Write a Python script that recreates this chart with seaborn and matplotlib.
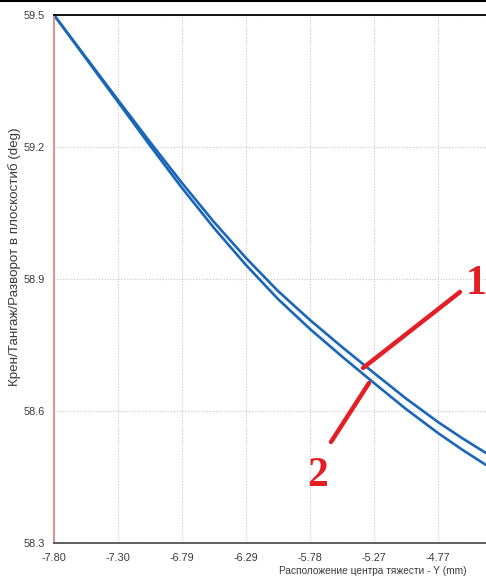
import matplotlib
matplotlib.use("Agg")
import matplotlib.pyplot as plt
from matplotlib.lines import Line2D
from matplotlib.ticker import FixedLocator
import seaborn as sns
import pandas as pd

# ---- data ----
x_vals = [-7.800, -7.5475, -7.295, -7.0425, -6.790, -6.5375, -6.285, -6.0325,
          -5.780, -5.5275, -5.275, -5.0225, -4.770, -4.581, -4.391]
curve1 = [59.500, 59.4034, 59.3068, 59.2114, 59.1182, 59.0295, 58.9477, 58.8727,
          58.8068, 58.7455, 58.6864, 58.6284, 58.5750, 58.5386, 58.5045]
curve2 = [59.500, 59.4011, 59.3023, 59.2034, 59.1068, 59.0159, 58.9318, 58.8545,
          58.7864, 58.7239, 58.6636, 58.6045, 58.5500, 58.5125, 58.4773]
x_tick_pos = [-7.80, -7.295, -6.79, -6.285, -5.78, -5.275, -4.77]
x_tick_labels = ["-7.80", "-7.30", "-6.79", "-6.29", "-5.78", "-5.27", "-4.77"]
y_ticks = [58.3, 58.6, 58.9, 59.2, 59.5]
y_tick_labels = ["58.3", "58.6", "58.9", "59.2", "59.5"]
x_label = "Расположение центра тяжести - Y (mm)"
y_label = "Крен/Тангаж/Разворот в плоскостиб (deg)"

df = pd.DataFrame({
    "x": x_vals + x_vals,
    "y": curve1 + curve2,
    "series": ["1"] * len(x_vals) + ["2"] * len(x_vals),
})

sns.set_style("white")
plt.rcParams["font.family"] = ["Liberation Sans", "DejaVu Sans"]

W, H = 486, 580
fig = plt.figure(figsize=(W / 100, H / 100), dpi=100)
ax = fig.add_axes([54 / W, (H - 543) / H, 1 - 54 / W, (543 - 15) / H])

blue = "#1a66b8"
sns.lineplot(data=df, x="x", y="y", hue="series", palette=[blue, blue],
             linewidth=1.9, ax=ax, legend=False, sort=False, estimator=None)

ax.set_xlim(-7.80, -4.391)
ax.set_ylim(58.3, 59.5)
ax.xaxis.set_major_locator(FixedLocator(x_tick_pos))
ax.set_xticklabels(x_tick_labels)
ax.xaxis.set_minor_locator(FixedLocator([p + 0.2525 for p in x_tick_pos]))
ax.yaxis.set_major_locator(FixedLocator(y_ticks))
ax.set_yticklabels(y_tick_labels)
ax.yaxis.set_minor_locator(FixedLocator([v + 0.15 for v in y_ticks[:-1]]))

ax.grid(True, which="major", color="#c8c8c8", linestyle=(0, (1, 1.5)), linewidth=0.8)
ax.set_axisbelow(True)

ax.tick_params(axis="both", which="major", direction="inout", length=7, width=1,
               color="#333333", labelsize=7.8, labelcolor="#3a3a3a", pad=3)
ax.tick_params(axis="both", which="minor", direction="inout", length=4, width=1,
               color="#333333")
ax.tick_params(axis="x", which="major", pad=4)

ax.spines["left"].set_color("#d98a8a")
ax.spines["left"].set_linewidth(1.3)
ax.spines["bottom"].set_color("#444444")
ax.spines["bottom"].set_linewidth(1.2)
ax.spines["top"].set_color("#000000")
ax.spines["top"].set_linewidth(1.3)
ax.spines["right"].set_visible(False)
ax.set_xlabel("")
ax.set_ylabel("")

fig.text(466 / W, 1 - 571 / H, x_label, ha="right", va="center",
         fontsize=7.3, color="#3a3a3a")
fig.text(15 / W, 1 - 257 / H, y_label, ha="center", va="center",
         rotation=90, fontsize=9.6, color="#3a3a3a")

# top border of the image
fig.add_artist(Line2D([0, 1], [1 - 1 / H, 1 - 1 / H], color="black",
                      linewidth=1.5, transform=fig.transFigure))

# red pointer annotations (pixel positions -> figure fraction)
red = "#e31e25"
def px(xp, yp):
    return xp / W, 1 - yp / H

for (x0, y0), (x1, y1) in [((460, 292), (363, 368)), ((331, 442), (369, 383))]:
    a, b = px(x0, y0)
    c, d = px(x1, y1)
    fig.add_artist(Line2D([a, c], [b, d], color=red, linewidth=3.2,
                          solid_capstyle="round", transform=fig.transFigure))

tx, ty = px(476, 284)
fig.text(tx, ty, "1", ha="center", va="center", fontsize=30, fontweight="bold",
         color=red, family=["Liberation Serif", "DejaVu Serif"])
tx, ty = px(318, 476)
fig.text(tx, ty, "2", ha="center", va="center", fontsize=30, fontweight="bold",
         color=red, family=["Liberation Serif", "DejaVu Serif"])

fig.savefig("out.png", dpi=100, facecolor="white")
